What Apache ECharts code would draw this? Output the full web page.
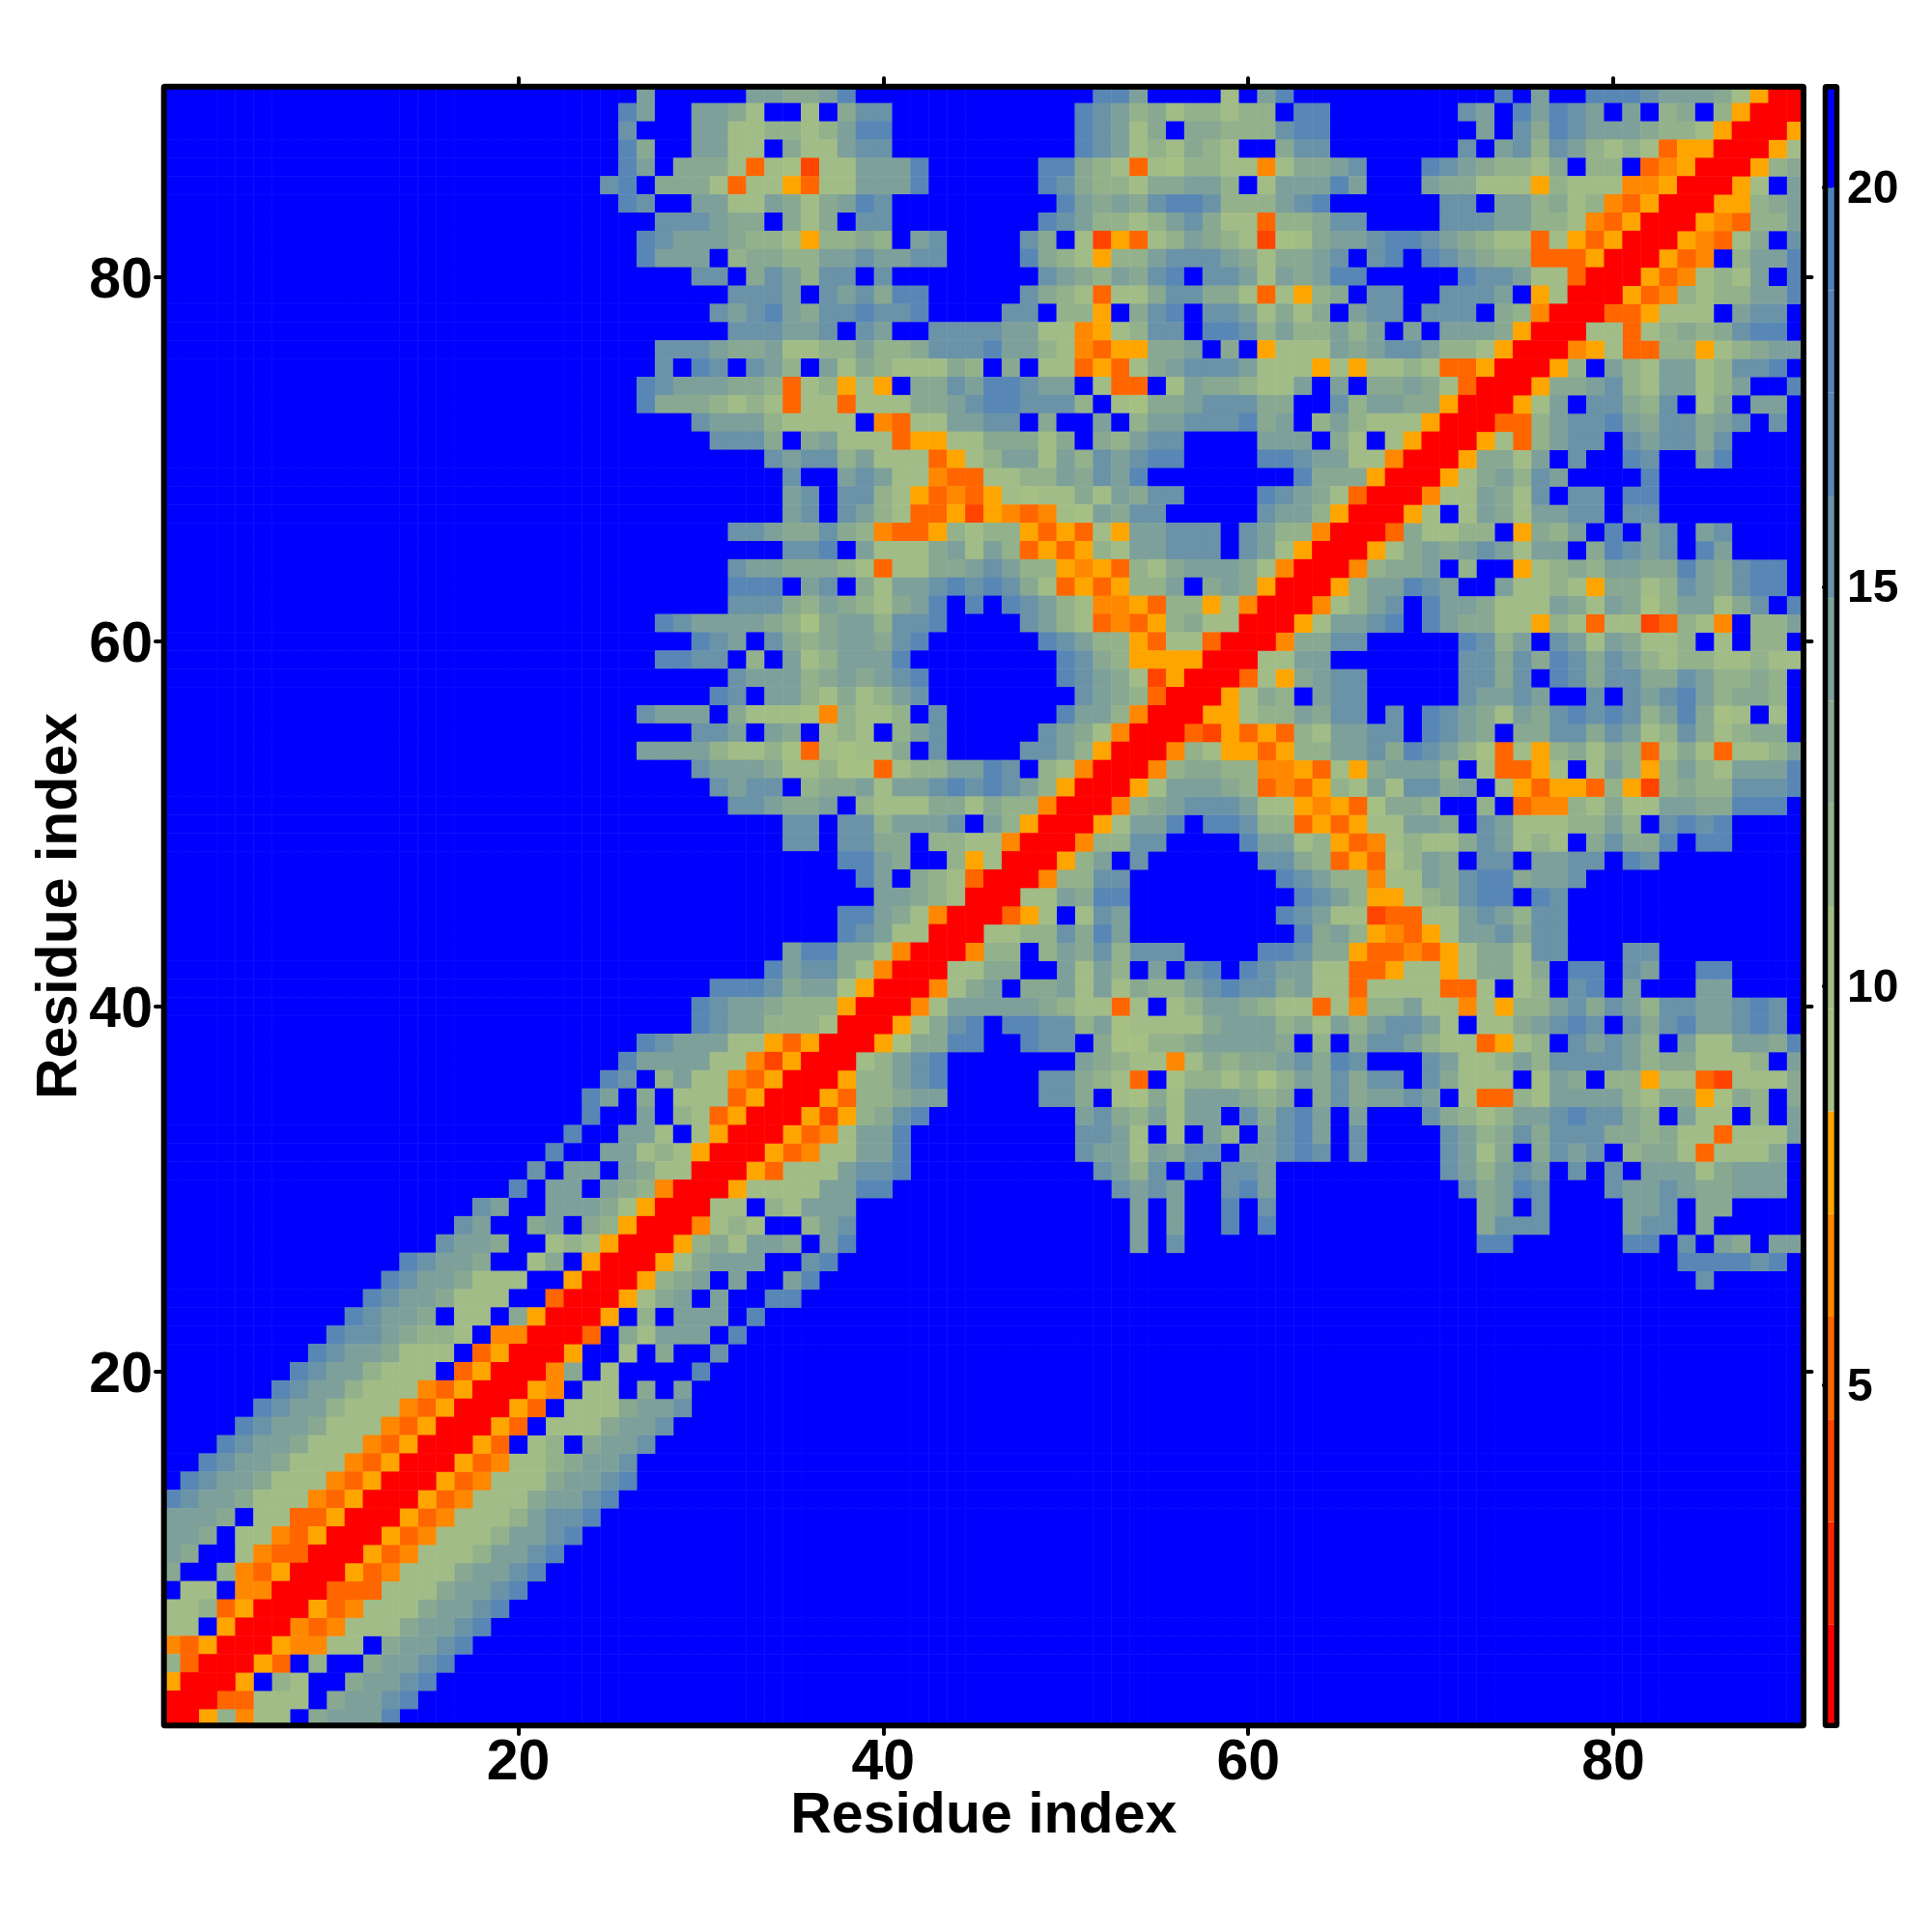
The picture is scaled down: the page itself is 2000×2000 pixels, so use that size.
<!DOCTYPE html>
<html><head><meta charset="utf-8">
<style>html,body{margin:0;padding:0;background:#fff}#c{width:2000px;height:2000px}</style>
<script src="https://cdn.jsdelivr.net/npm/echarts@6/dist/echarts.min.js"></script>
</head><body><div id="c"></div><script>
// Level letters, lowest distance first; a number in a row is a run of out-of-range (blue) cells.
const levelCodes = ['R','Q','S','T','U','O','a','b','c','d','e','f','g','h','i','z'];
const levelColors = ['#FF0000','#FF2200','#FF4400','#FF6600','#FF8800','#FFA500',
  '#A6C084','#A1BC86','#93B18B','#88A892','#7EA09A','#6A93A8','#5887B6','#5484BA','#4F81BD','#0000FF'];
const levelEdges = [0.72,2.005,3.29,4.575,5.86,7.145,8.43,9.715,11,12.285,13.57,14.855,16.14,17.425,18.71,19.995,21.28];
const tickResidues = [20,40,60,80];
const barTicks = [5,10,15,20];
// Rows from residue 90 down to residue 1, each from x=1 to the diagonal (map is symmetric).
const rows = [
"26e5eeddeg13gge4b1eg11g1e2gggfeeedbORR",
"25ge2eedb2b1dff10gfecdbccbcc1gg7fe1gegfe1e1cd1cORR",
"25f3eebbccbcegg10gfebd1ddcccfgg8e1fdgfeeedccbORR",
"25gd2eebb1dbbeff10gfebcbdcb2dff7f1efcfecbcbTOORR",
"25ge1dddbTbaSbbeeeg6ggdcbTbaccbbUbddef3gfedccbd1cc1TUORR",
"24fg1dddbTbbOTbbeeeg6gfdccbddeec1beeege3eddbbbOcbbbUUORR",
"25gf2eebbedbdegf9gededfggfcccefg6ff1eecdbcUTORR",
"27fffedd1dbd1ff8gfeccbcefdbbTccdff4fffeeccbUTORR",
"26gfeeedccbOccdc1ef4fd1bSOTbcedcbSabdeefggfedcbbTbOTORR",
"26geee1cddcceefeeff4gdcbOccefffedbddef1fg1gfedccTTTORR",
"29ff1dfecff1f8fedcedfg1ffebedegg5gffebbTRR",
"31fffe1fefdgg5fdcbTbbdffddbTbOcd1ff2fffe1ObRR",
"30fefgedffgffg4ff1ccO1dfg1ffebdbd1eff1fff1dcURR",
"31fffeef1fe2ffffeebbUObcff1ggfceccece1e1eeedORR",
"27fffeddebbcceccdfffgeecbUTOOdde1d1ObbbedeffeccbORR",
"27f1gf1fec1ebdcbbbdc1d1bbTOTbdefffebbbObObbcbTTORR",
"26gfeeeddcTbcObO1ddfeggfee1bTT1beddcbbe1e1ddedbTRR",
"26gdddcbcbTbbTbbbddefggfffc1baddefffdd2fceeddORR",
"29feeecbbbb1UTbbeeff1d2e1ceefffgde1cecbbbORR",
"30fffd1debbbTOObbdddbd1dceff4eee1db1bORR",
"33feffcebbbTObceebecfefgg4ggfeebbURR",
"34f2efebbUTTbbccedfeg8gdddORR",
"34ef1ffcbOTUTObabbdbedff4gfedbTRR",
"34ef1fecbTTOSOUTUbaedff5feecORR",
"31ffeddfdcUTTOcbccOTOTbOeefff1feccURR",
"34ffg1ebbbdebecTOTOcbeefff1febORR",
"31feedddcbTbbddefeccOUOTcbdeeedbURR",
"31ggg1ef1dbeefgfgfdbTOTOcce1dedORR",
"31fffdcedcbdeg1g1gfecbUUOTccObURR",
"27gfeeeedcadeecffg4fecbTUTOcdbbRR",
"29gfe1fdcdeedfg6gfeccOTbbTRR",
"27ggff1c1ebceeeg8gfdcOOOORR",
"31feeecdedefg7gfedbSORR",
"30gf1eecbdbcef8fedcTRR",
"26feee1dbbbaUcbbc1f6geecURR",
"29ffe1ed1bcb1cef5fedbURR",
"26eeeecbbcaTbabbd1f4ffecORR",
"29feeedbbcaaTbcceegf1cbURR",
"30feff1cddebeefgfgfecORR",
"31ffedde1cbbbddbdccURR",
"34ff1ffceeef1ecORR",
"34ff1ffdd1ccbbURR",
"37gged2cObRR",
"38ge1dcbTRR",
"39eedcbRR",
"37ggedbURR",
"37gfebbRR",
"34eggddbURR",
"33geffdbURR",
"30gggfdeeaORR",
"29gfeedcccORR",
"29gfeecccbRR",
"26gfeeebbOTORR",
"25geeeebbUSORR",
"24gf1cebbUTORR",
"23ge1d1bbbTORR",
"23g2e1cbTORR",
"22g2eeb1bORR",
"21g2eebcbORR",
"20f1ee1edbbRR",
"19g1ee1edcURR",
"17fe2eeedbORR",
"16fe2de1dcORR",
"15feed2bcbORR",
"13gfeed2bd1ORR",
"12gfeedbbb2ORR",
"11gfeedbbb2TRR",
"10gfeed1bb1dORR",
"9gffedccb1UURR",
"8gfeedbbb1TORR",
"7gfeecbbb1TORR",
"6gfeecbbbUTORR",
"5gfeecbbbUTORR",
"4gfeedbbbUTORR",
"3gfeedbbbUTORR",
"2gfeedbbbUTORR",
"1gfeedbbbUTORR",
"gfeedbbbUTORR",
"eeed1bbTTORR",
"eed1bbUTORR",
"ed2bUTTRR",
"d2cUTORR",
"1bb1UURR",
"bbcTORR",
"bb1ORR",
"UTORR",
"cTRR",
"ORR",
"RR",
"R"];

const N = 90;
const residues = Array.from({length:N},(_,i)=>String(i+1));
const midValue = k => (levelEdges[k]+levelEdges[k+1])/2;
const cells = [];
rows.forEach((s,i)=>{
  const y = N-i;
  const lv = [];
  (s.match(/\d+|[A-Za-z]/g)||[]).forEach(t=>{
    if(/\d/.test(t)){ for(let k=0;k<+t;k++) lv.push(15); }
    else lv.push(levelCodes.indexOf(t));
  });
  for(let x=1;x<=y;x++){
    const k = lv[x-1]===undefined?15:lv[x-1];
    cells.push([x-1,y-1,midValue(k)]);
    if(x!==y) cells.push([y-1,x-1,midValue(k)]);
  }
});
const barLevels = levelColors.map((c,k)=>[0,levelEdges[k],levelEdges[k+1],k]);
const FONT = '"Liberation Sans"';
const showTick = (i,v)=>tickResidues.includes(+v);
const tickStyle = {color:'#000',width:4,cap:'round'};
const catAxis = (extra)=>Object.assign({
  type:'category',data:residues,boundaryGap:true,axisLine:{show:false},splitLine:{show:false},
  axisTick:{show:true,alignWithLabel:true,interval:showTick,length:7,lineStyle:tickStyle},
  axisLabel:{show:true,interval:showTick,color:'#000',fontFamily:FONT,fontWeight:'bold',fontSize:59,margin:8,hideOverlap:false}
},extra);
const chart = echarts.init(document.getElementById('c'),null,{renderer:'canvas'});
chart.setOption({
  animation:false,backgroundColor:'#fff',
  grid:[{left:168,top:88,width:1700.5,height:1700,containLabel:false},
        {left:1888,top:88,width:15,height:1700,containLabel:false}],
  xAxis:[
    catAxis({gridIndex:0,position:'bottom',name:'Residue index',nameLocation:'middle',nameGap:63,nameMoveOverlap:false,
      nameTextStyle:{color:'#000',fontFamily:FONT,fontWeight:'bold',fontSize:59}}),
    catAxis({gridIndex:0,position:'top',axisLabel:{show:false}}),
    {type:'value',gridIndex:1,min:0,max:1,show:false}
  ],
  yAxis:[
    catAxis({gridIndex:0,position:'left',name:'Residue index',nameLocation:'middle',nameGap:76,nameMoveOverlap:false,
      axisLabel:{show:true,interval:showTick,color:'#000',fontFamily:FONT,fontWeight:'bold',fontSize:59,margin:10,verticalAlign:'top',lineHeight:10},
      nameTextStyle:{color:'#000',fontFamily:FONT,fontWeight:'bold',fontSize:59}}),
    catAxis({gridIndex:0,position:'right',axisLabel:{show:false}}),
    {type:'value',gridIndex:1,position:'right',min:0.72,max:21.28,scale:true,
      axisLine:{show:false},splitLine:{show:false},
      axisTick:{show:true,length:7,lineStyle:tickStyle,customValues:barTicks},
      axisLabel:{show:true,customValues:barTicks,color:'#000',fontFamily:FONT,fontWeight:'bold',fontSize:48,margin:9,verticalAlign:'top',lineHeight:6,showMinLabel:true,showMaxLabel:true}}
  ],
  visualMap:{show:false,type:'piecewise',seriesIndex:0,dimension:2,
    pieces:levelColors.map((c,k)=>({gte:levelEdges[k],lt:levelEdges[k+1],color:c}))},
  series:[
    {type:'heatmap',xAxisIndex:0,yAxisIndex:0,data:cells,progressive:0,emphasis:{disabled:true},itemStyle:{borderWidth:0}},
    {type:'custom',xAxisIndex:2,yAxisIndex:2,data:barLevels,silent:true,
      renderItem:(p,api)=>{
        const a=api.coord([0,api.value(2)]), b=api.coord([1,api.value(1)]);
        return {type:'rect',shape:{x:a[0],y:a[1],width:b[0]-a[0],height:b[1]-a[1]},
          style:{fill:levelColors[api.value(3)]}};
      }}
  ],
  graphic:[
    {type:'rect',z:100,shape:{x:169.7,y:89.7,width:1697.3,height:1696.5,r:1},style:{fill:'none',stroke:'#000',lineWidth:6}},
    {type:'rect',z:100,shape:{x:1889.5,y:89.7,width:12,height:1696.5,r:1},style:{fill:'none',stroke:'#000',lineWidth:5.5}}
  ]
});
</script></body></html>
